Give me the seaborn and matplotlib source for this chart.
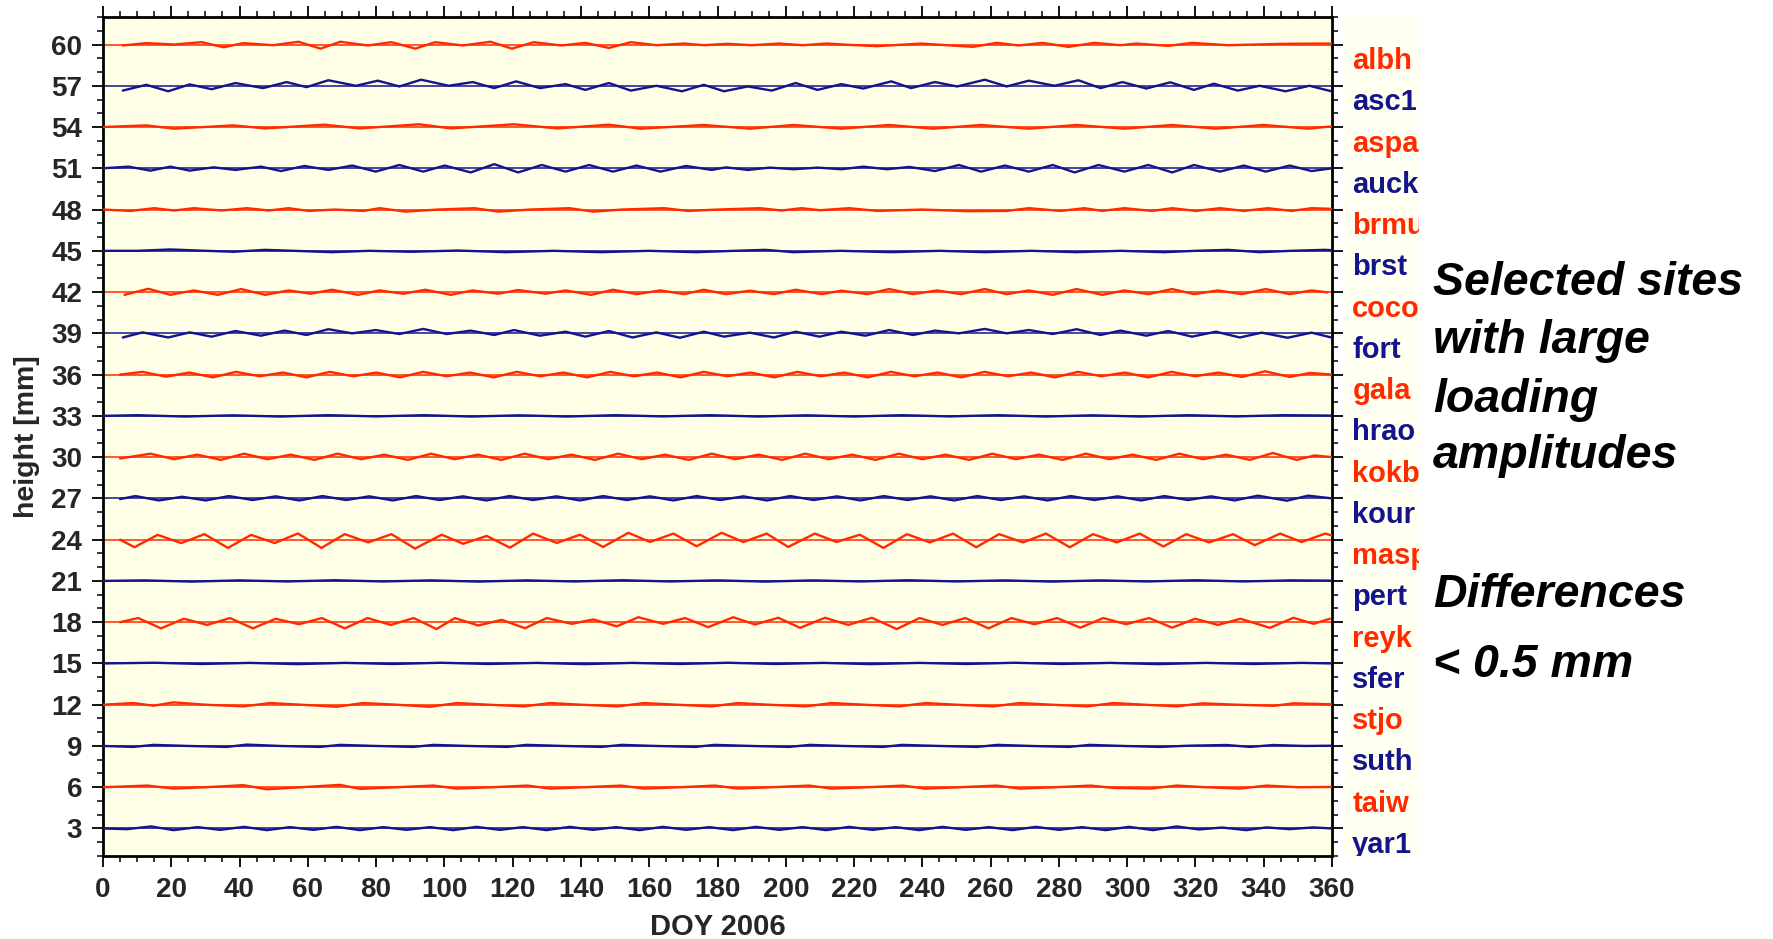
import numpy as np
import pandas as pd
import matplotlib
matplotlib.use("Agg")
import matplotlib.pyplot as plt
import seaborn as sns
from matplotlib.ticker import MultipleLocator

sns.set_theme(style="white")
plt.rcParams['font.family'] = ['Liberation Sans', 'DejaVu Sans']
plt.rcParams['font.weight'] = 'bold'

sites = ["albh", "asc1", "aspa", "auck", "brmu", "brst", "coco", "fort", "gala", "hrao",
         "kokb", "kour", "masp", "pert", "reyk", "sfer", "stjo", "suth", "taiw", "yar1"]
offsets = [60, 57, 54, 51, 48, 45, 42, 39, 36, 33, 30, 27, 24, 21, 18, 15, 12, 9, 6, 3]
RED = "#ff2a00"
BLUE = "#14148c"
colors = [RED if i % 2 == 0 else BLUE for i in range(len(sites))]

xticks = list(range(0, 361, 20))
yticks = list(range(3, 61, 3))

albh_doy = [5.8, 12.7, 20.8, 28.9, 35.3, 41.1, 49.8, 57.3, 63.7, 69.5, 77.6, 84.5, 91.5, 97.3, 105.4,
            113.5, 119.8, 126.2, 134.3, 141.3, 148.2, 154.6, 162.1, 170.2, 176.0, 183, 190, 198, 205,
            212, 219, 226.8, 239.6, 254.8, 261.8, 268.2, 275.2, 282.8, 290.4, 298.0, 302.7, 312.0,
            319.0, 329.5, 345.8, 357.5, 360]
albh_dh = [-0.07, 0.1, 0.0, 0.17, -0.2, 0.1, -0.05, 0.2, -0.3, 0.2, -0.07, 0.17, -0.3, 0.17, -0.07,
           0.2, -0.3, 0.17, -0.07, 0.12, -0.25, 0.17, -0.05, 0.07, -0.05, 0.05, -0.05, 0.07, -0.05,
           0.07, -0.03, -0.12, 0.07, -0.17, 0.12, -0.07, 0.12, -0.17, 0.12, -0.05, 0.07, -0.1,
           0.12, -0.05, 0.05, 0.07, 0.05]

asc1_doy = [5.8, 12.7, 19.1, 25.4, 31.8, 38.8, 46.9, 53.8, 59.6, 66.0, 74.1, 80.5, 86.8, 93.2, 101.3,
            108.3, 114.6, 121.0, 128.0, 135.5, 141.3, 148.2, 154.6, 162.1, 169.6, 176.0, 181.9, 188.9,
            195.9, 202.9, 209.3, 216.3, 222.7, 230.9, 236.7, 243.7, 250.2, 258.3, 264.7, 271.2, 278.7,
            285.7, 292.2, 298.6, 305.6, 312.6, 319.6, 325.4, 332.4, 338.8, 346.4, 353.4, 359.8]
asc1_dh = [-0.35, 0.07, -0.4, 0.1, -0.25, 0.2, -0.17, 0.27, -0.1, 0.4, 0.0, 0.37, -0.05, 0.44, 0.0,
           0.27, -0.17, 0.32, -0.17, 0.12, -0.3, 0.2, -0.35, 0.0, -0.4, 0.07, -0.4, -0.05,
           -0.35, 0.2, -0.3, 0.12, -0.2, 0.32, -0.17, 0.27, -0.05, 0.44, -0.05, 0.37, 0.0,
           0.4, -0.17, 0.27, -0.2, 0.25, -0.3, 0.15, -0.35, 0.0, -0.4, 0.0, -0.4]

aspa_doy = [0, 12.7, 20.8, 38.2, 47.5, 64.8, 75.2, 92.6, 101.9, 120.4, 133.1, 148.2, 157.5, 176.0,
            189.5, 202.3, 216.3, 230.3, 243.2, 257.2, 271.2, 285.2, 299.2, 313.2, 326.0, 340.0, 352.9, 360]
aspa_dh = [0.0, 0.12, -0.12, 0.12, -0.1, 0.17, -0.1, 0.2, -0.1, 0.2, -0.1, 0.17, -0.12, 0.15,
           -0.12, 0.15, -0.12, 0.15, -0.12, 0.15, -0.12, 0.15, -0.12, 0.15, -0.12, 0.15, -0.12, 0.05]

auck_doy = [0, 7.5, 13.9, 19.7, 25.4, 32.4, 38.8, 46.3, 52.1, 59.0, 66.0, 73.0, 79.9, 86.8, 93.8, 100.1,
            107.7, 114.6, 121.6, 128.5, 135.5, 142.4, 149.4, 156.3, 163.3, 170.8, 178.3, 182.5, 188.9,
            195.3, 202.3, 209.3, 216.3, 222.7, 229.7, 236.2, 243.7, 250.7, 257.2, 264.2, 271.2, 278.2,
            284.6, 291.6, 299.2, 306.2, 313.2, 319.6, 327.2, 334.2, 340.6, 347.6, 354.0, 360]
auck_dh = [0.0, 0.12, -0.17, 0.12, -0.17, 0.07, -0.12, 0.12, -0.2, 0.17, -0.12, 0.2, -0.24, 0.24, -0.24, 0.2,
           -0.3, 0.3, -0.3, 0.24, -0.24, 0.24, -0.24, 0.2, -0.24, 0.17, -0.12, 0.07, -0.12,
           0.05, -0.07, 0.05, -0.07, 0.12, -0.07, 0.1, -0.2, 0.24, -0.24, 0.2, -0.24, 0.24,
           -0.3, 0.24, -0.24, 0.24, -0.3, 0.24, -0.24, 0.2, -0.24, 0.2, -0.2, 0.0]

brmu_doy = [0, 8.1, 15.0, 20.8, 26.6, 34.7, 42.2, 48.6, 54.4, 60.2, 68, 76.4, 81.0, 88.6, 98, 108.8, 115.8,
            125, 136.6, 143.6, 152, 164.4, 171.4, 180, 192.4, 198.8, 204.6, 210, 218.6, 226.8, 240, 253.7,
            264.7, 271.2, 280.5, 287.5, 292.7, 299.2, 307.3, 313.2, 320.2, 327.2, 334.2, 341.2, 348.2, 354.0, 360]
brmu_dh = [0.0, -0.1, 0.1, -0.07, 0.1, -0.07, 0.1, -0.07, 0.1, -0.1, 0.0, -0.1, 0.1, -0.15, 0.0, 0.1, -0.15,
           0.0, 0.1, -0.15, 0.0, 0.1, -0.1, 0.0, 0.1, -0.07, 0.1, -0.05, 0.1, -0.1, 0.0, -0.12,
           -0.1, 0.1, -0.1, 0.1, -0.1, 0.1, -0.1, 0.1, -0.1, 0.1, -0.1, 0.1, -0.1, 0.1, 0.05]

brst_doy = [0, 10, 19.7, 28, 38.2, 47.5, 56, 67.1, 78, 90.3, 104, 118.1, 132, 145.9, 160, 173.7, 185, 194.1,
            202.3, 216, 230.9, 245, 258.3, 272, 285.2, 298, 310.8, 320, 329.5, 338.8, 348, 357.5, 360]
brst_dh = [0.0, 0.0, 0.1, 0.02, -0.07, 0.07, 0.0, -0.1, 0.0, -0.07, 0.02, -0.1, 0.0, -0.1, 0.0, -0.1, 0.0, 0.07,
           -0.1, 0.0, -0.1, 0.0, -0.1, 0.0, -0.1, 0.0, -0.1, 0.0, 0.07, -0.1, 0.0, 0.07, 0.05]

coco_doy = [6.3, 13.3, 19.7, 26.6, 33.6, 40.5, 47.5, 54.4, 60.8, 67.1, 74.7, 81.0, 88.0, 94.4, 101.9,
            108.2, 115.8, 121.6, 129.7, 135.5, 143.0, 149.4, 156.3, 163.3, 170.2, 176.0, 182.5, 189.5,
            196.5, 202.9, 210.5, 216.3, 223.9, 230.3, 237.3, 244.3, 251.3, 258.3, 264.7, 271.2, 278.2,
            285.2, 292.7, 299.2, 306.2, 313.2, 319.6, 326.6, 333.6, 340.6, 347.6, 354.0, 358.7]
coco_dh = [-0.2, 0.24, -0.2, 0.12, -0.2, 0.22, -0.2, 0.12, -0.12, 0.17, -0.2, 0.12, -0.12, 0.17, -0.2,
           0.12, -0.12, 0.15, -0.12, 0.12, -0.2, 0.17, -0.15, 0.12, -0.15, 0.17, -0.15, 0.1,
           -0.15, 0.17, -0.15, 0.1, -0.15, 0.22, -0.15, 0.12, -0.15, 0.22, -0.15, 0.12, -0.2,
           0.22, -0.2, 0.12, -0.15, 0.22, -0.15, 0.12, -0.15, 0.22, -0.15, 0.12, -0.02]

fort_doy = [5.8, 11.6, 19.1, 25.4, 31.8, 38.8, 46.3, 53.2, 59.6, 66.0, 73.0, 79.9, 86.8, 93.8, 100.7,
            107.7, 114.6, 120.4, 128.0, 135.5, 141.3, 148.2, 155.1, 162.1, 169.0, 176.0, 181.9, 189.5,
            196.5, 202.9, 209.9, 216.3, 223.3, 230.3, 237.3, 243.7, 250.7, 258.3, 264.7, 271.2, 278.2,
            285.2, 292.2, 298.0, 305.6, 312.0, 319.0, 326.0, 333.0, 339.4, 347.0, 354.0, 359.8]
fort_dh = [-0.3, 0.07, -0.3, 0.07, -0.24, 0.17, -0.17, 0.2, -0.12, 0.3, 0.0, 0.24, -0.05, 0.32, -0.05,
           0.2, -0.12, 0.24, -0.17, 0.12, -0.24, 0.17, -0.3, 0.07, -0.32, 0.12, -0.24, 0.05,
           -0.3, 0.12, -0.24, 0.12, -0.17, 0.24, -0.12, 0.2, 0.0, 0.32, 0.0, 0.24, -0.05,
           0.3, -0.12, 0.2, -0.17, 0.17, -0.24, 0.12, -0.3, 0.05, -0.32, 0.05, -0.3]

gala_doy = [5, 11.6, 18.5, 25.3, 32.2, 39.0, 45.9, 52.7, 59.6, 66.4,
            73.3, 80.1, 87.0, 93.8, 100.7, 107.5, 114.4, 121.2, 128.1, 134.9,
            141.8, 148.6, 155.5, 162.3, 169.2, 176.0, 182.9, 189.7, 196.6, 203.4,
            210.3, 217.1, 224.0, 230.8, 237.7, 244.5, 251.4, 258.2, 265.1, 271.9,
            278.8, 285.6, 292.5, 299.3, 306.2, 313.0, 319.9, 326.7, 333.6, 340.4,
            347.7, 353.5, 360]
gala_dh = [0.0,
           0.2, -0.15, 0.15, -0.2, 0.2, -0.12, 0.15, -0.2, 0.2, -0.12,
           0.15, -0.2, 0.2, -0.12, 0.15, -0.2, 0.2, -0.12, 0.15, -0.2,
           0.2, -0.12, 0.15, -0.2, 0.2, -0.12, 0.15, -0.2, 0.2, -0.12,
           0.15, -0.2, 0.2, -0.12, 0.15, -0.2, 0.2, -0.12, 0.15, -0.2,
           0.2, -0.12, 0.15, -0.2, 0.2, -0.12, 0.15, -0.17, 0.24, -0.17,
           0.12, 0.0]

hrao_doy = [0, 10, 24, 38, 52, 66, 80, 94, 108, 122, 136, 150, 164, 178, 192, 206, 220, 234, 248,
            262, 276, 290, 304, 318, 332, 346, 360]
hrao_dh = [0.0, 0.05, -0.05, 0.04, -0.05, 0.05, -0.04, 0.05, -0.05, 0.04, -0.05, 0.05, -0.04, 0.05,
           -0.05, 0.04, -0.05, 0.05, -0.04, 0.05, -0.05, 0.04, -0.05, 0.05, -0.04, 0.05, 0.02]

kokb_doy = [5, 13.9, 20.8, 27.6, 34.5, 41.3, 48.2, 55.0, 61.9, 68.7,
            75.6, 82.4, 89.3, 96.1, 103.0, 109.8, 116.7, 123.5, 130.4, 137.2,
            144.1, 150.9, 157.8, 164.6, 171.5, 178.3, 185.2, 192.0, 198.9, 205.7,
            212.6, 219.4, 226.3, 233.1, 240.0, 246.8, 253.7, 260.5, 267.4, 274.2,
            281.1, 287.9, 294.8, 301.6, 308.5, 315.3, 322.2, 329.0, 335.9, 342.7,
            349.6, 354.9, 360]
kokb_dh = [-0.1,
           0.25, -0.15, 0.18, -0.2, 0.25, -0.15, 0.18, -0.2, 0.25, -0.15,
           0.18, -0.2, 0.25, -0.15, 0.18, -0.2, 0.25, -0.15, 0.18, -0.2,
           0.25, -0.15, 0.18, -0.2, 0.25, -0.15, 0.18, -0.2, 0.25, -0.15,
           0.18, -0.2, 0.25, -0.15, 0.18, -0.2, 0.25, -0.15, 0.18, -0.2,
           0.25, -0.15, 0.18, -0.2, 0.25, -0.15, 0.18, -0.2, 0.3, -0.2,
           0.12, 0.0]

kour_doy = [5, 9.5, 16.4, 23.2, 30.1, 36.9, 43.8, 50.6, 57.5, 64.3,
            71.2, 78.0, 84.9, 91.7, 98.6, 105.4, 112.3, 119.1, 126.0, 132.8,
            139.7, 146.5, 153.4, 160.2, 167.1, 173.9, 180.8, 187.6, 194.5, 201.3,
            208.2, 215.0, 221.9, 228.7, 235.6, 242.4, 249.3, 256.1, 263.0, 269.8,
            276.7, 283.5, 290.4, 297.2, 304.1, 310.9, 317.8, 324.6, 331.5, 338.3,
            346.8, 353.0, 360]
kour_dh = [-0.05,
           0.17, -0.15, 0.12, -0.15, 0.17, -0.12, 0.15, -0.15, 0.17, -0.12,
           0.15, -0.15, 0.17, -0.12, 0.15, -0.15, 0.17, -0.12, 0.15, -0.15,
           0.17, -0.12, 0.15, -0.15, 0.17, -0.12, 0.15, -0.15, 0.17, -0.12,
           0.15, -0.15, 0.17, -0.12, 0.15, -0.15, 0.17, -0.12, 0.15, -0.15,
           0.17, -0.12, 0.15, -0.15, 0.17, -0.12, 0.15, -0.15, 0.2, -0.17,
           0.2, 0.0]

masp_doy = [5, 9.2, 16.0, 22.9, 29.7, 36.6, 43.4, 50.3, 57.1, 64.0,
            70.8, 77.7, 84.5, 91.4, 99.2, 105.5, 112.4, 119.2, 126.0, 132.9,
            139.7, 146.5, 153.9, 160.2, 167.1, 173.9, 181.2, 187.6, 194.4, 200.7,
            208.5, 214.9, 221.7, 228.6, 235.5, 242.2, 249.0, 255.8, 262.5, 269.5,
            276.2, 283.2, 290.0, 296.9, 303.7, 310.6, 317.3, 324.0, 331.0, 337.4,
            344.8, 351.1, 358.0, 360]
masp_dh = [0.0, -0.55, 0.35, -0.25, 0.4, -0.6, 0.35, -0.25, 0.45, -0.6,
           0.4, -0.2, 0.4, -0.65, 0.36, -0.3, 0.27, -0.58, 0.44, -0.24,
           0.36, -0.53, 0.5, -0.17, 0.44, -0.48, 0.5, -0.17, 0.44, -0.53,
           0.44, -0.17, 0.36, -0.6, 0.4, -0.2, 0.44, -0.55, 0.4, -0.2,
           0.44, -0.55, 0.4, -0.2, 0.44, -0.5, 0.4, -0.2, 0.4, -0.4,
           0.44, -0.17, 0.44, 0.3]

pert_doy = [0, 12, 26, 40, 54, 68, 82, 96, 110, 124, 138, 152, 166, 180, 194, 208, 222, 236, 250,
            264, 278, 292, 306, 320, 334, 348, 360]
pert_dh = [0.0, 0.04, -0.05, 0.04, -0.04, 0.05, -0.04, 0.04, -0.05, 0.04, -0.04, 0.05, -0.04, 0.04,
           -0.05, 0.04, -0.04, 0.05, -0.04, 0.04, -0.05, 0.04, -0.04, 0.05, -0.04, 0.04, 0.02]

reyk_doy = [5, 10.3, 17.0, 23.7, 30.5, 37.2, 43.9, 50.6, 57.4, 64.1,
            70.8, 77.5, 84.3, 91.0, 97.7, 103.1, 109.9, 116.8, 123.6, 130.0,
            137.3, 143.6, 150.5, 156.8, 164.1, 170.5, 177.3, 184.6, 191.0, 197.8,
            204.2, 211.5, 218.3, 225.2, 232.5, 239.2, 245.9, 252.6, 259.4, 266.1,
            272.8, 279.5, 286.3, 293.0, 299.7, 306.4, 313.2, 319.9, 326.6, 333.2,
            341.8, 348.7, 354.6, 359.4]
reyk_dh = [0.0, 0.3, -0.45, 0.25, -0.2, 0.3, -0.45, 0.25, -0.15, 0.3,
           -0.45, 0.3, -0.2, 0.3, -0.5, 0.3, -0.24, 0.17, -0.44, 0.3,
           -0.12, 0.2, -0.3, 0.36, -0.12, 0.3, -0.36, 0.36, -0.17, 0.32,
           -0.41, 0.32, -0.2, 0.32, -0.5, 0.3, -0.2, 0.3, -0.45, 0.3,
           -0.15, 0.3, -0.4, 0.3, -0.15, 0.3, -0.4, 0.25, -0.2, 0.25,
           -0.41, 0.32, -0.12, 0.25]

sfer_doy = [0, 15, 29, 43, 57, 71, 85, 99, 113, 127, 141, 155, 169, 183, 197, 211, 225, 239, 253,
            267, 281, 295, 309, 323, 337, 351, 360]
sfer_dh = [0.0, 0.05, -0.04, 0.04, -0.05, 0.04, -0.04, 0.05, -0.04, 0.04, -0.05, 0.04, -0.04, 0.05,
           -0.04, 0.04, -0.05, 0.04, -0.04, 0.05, -0.04, 0.04, -0.05, 0.04, -0.04, 0.04, 0.0]

stjo_doy = [0, 8.9, 14.8, 20.7, 30, 41.1, 49.0, 58, 68.4, 76.2,
            86, 95.8, 103.7, 113, 123.3, 131.0, 140, 150.8, 158.5, 168,
            178.3, 186.0, 195, 205.8, 213.5, 223, 233.3, 241.0, 250, 260.8,
            268.5, 278, 288.3, 296.0, 305, 314.5, 322.0, 332, 343.0, 348.7,
            360]
stjo_dh = [0.0, 0.12, -0.07, 0.17, 0.0, -0.12, 0.12, 0.0, -0.15, 0.12,
           0.0, -0.15, 0.12, 0.0, -0.12, 0.12, 0.0, -0.12, 0.12, 0.0,
           -0.12, 0.12, 0.0, -0.12, 0.12, 0.0, -0.12, 0.12, 0.0, -0.12,
           0.12, 0.0, -0.12, 0.12, 0.0, -0.12, 0.1, 0.0, -0.08, 0.1,
           0.03]

suth_doy = [0, 8.9, 14.8, 25, 36.3, 42.1, 52, 63.6, 69.4, 80,
            91.0, 96.8, 107, 118.5, 124, 135, 146, 152, 162, 173.5,
            179, 190, 201, 207, 217, 228.5, 234, 245, 256, 262,
            272, 283, 289, 299, 309.6, 318, 329.1, 336.0, 342.7, 352,
            360]
suth_dh = [0.0, -0.07, 0.08, 0.0, -0.07, 0.1, 0.0, -0.07, 0.08, 0.0,
           -0.07, 0.08, 0.0, -0.07, 0.08, 0.0, -0.07, 0.08, 0.0, -0.07,
           0.08, 0.0, -0.07, 0.08, 0.0, -0.07, 0.08, 0.0, -0.07, 0.08,
           0.0, -0.07, 0.08, 0.0, -0.07, 0.02, 0.07, -0.07, 0.07, 0.0,
           0.02]

taiw_doy = [0, 13.0, 20.7, 30, 41.1, 48.0, 58, 69.4, 75.3, 86,
            96.8, 103.7, 114, 124.3, 131, 141, 151.8, 158.5, 169, 179.3,
            186, 196, 206.8, 213.5, 224, 234.3, 241, 251, 261.8, 268.5,
            279, 289.3, 296, 306.7, 314.5, 323, 333.0, 340.8, 350, 360]
taiw_dh = [0.0, 0.12, -0.1, 0.0, 0.15, -0.15, 0.0, 0.17, -0.12, 0.0,
           0.12, -0.1, 0.0, 0.12, -0.1, 0.0, 0.12, -0.1, 0.0, 0.12,
           -0.1, 0.0, 0.12, -0.1, 0.0, 0.12, -0.1, 0.0, 0.12, -0.1,
           0.0, 0.12, -0.05, -0.1, 0.12, 0.0, -0.1, 0.12, 0.0, 0.02]

yar1_doy = [0, 7.0, 14.1, 20.7, 27.7, 34.3, 41.3, 48.0, 54.8, 61.6,
            68.4, 75.3, 82.1, 88.9, 95.8, 102.6, 109.4, 116.2, 123.0, 129.9,
            136.7, 143.5, 150.3, 157.2, 164.0, 170.8, 177.6, 184.5, 191.3, 198.1,
            204.9, 211.8, 218.6, 225.4, 232.2, 239.1, 245.9, 252.7, 259.5, 266.4,
            273.2, 280.0, 286.8, 293.7, 300.5, 307.6, 314.5, 321.0, 327.8, 334.9,
            340.8, 347.6, 354.5, 360]
yar1_dh = [0.0, -0.05, 0.15, -0.12, 0.1, -0.1, 0.12, -0.12, 0.1, -0.1,
           0.12, -0.12, 0.1, -0.1, 0.1, -0.12, 0.12, -0.1, 0.1, -0.12,
           0.12, -0.1, 0.1, -0.12, 0.12, -0.1, 0.1, -0.12, 0.12, -0.1,
           0.1, -0.12, 0.12, -0.1, 0.1, -0.12, 0.12, -0.1, 0.1, -0.12,
           0.12, -0.1, 0.1, -0.12, 0.12, -0.12, 0.15, -0.07, 0.07, -0.12,
           0.08, -0.05, 0.08, 0.0]

series = {
    "albh": (albh_doy, albh_dh), "asc1": (asc1_doy, asc1_dh), "aspa": (aspa_doy, aspa_dh),
    "auck": (auck_doy, auck_dh), "brmu": (brmu_doy, brmu_dh), "brst": (brst_doy, brst_dh),
    "coco": (coco_doy, coco_dh), "fort": (fort_doy, fort_dh), "gala": (gala_doy, gala_dh),
    "hrao": (hrao_doy, hrao_dh), "kokb": (kokb_doy, kokb_dh), "kour": (kour_doy, kour_dh),
    "masp": (masp_doy, masp_dh), "pert": (pert_doy, pert_dh), "reyk": (reyk_doy, reyk_dh),
    "sfer": (sfer_doy, sfer_dh), "stjo": (stjo_doy, stjo_dh), "suth": (suth_doy, suth_dh),
    "taiw": (taiw_doy, taiw_dh), "yar1": (yar1_doy, yar1_dh),
}

rows = []
for s, off in zip(sites, offsets):
    d, v = series[s]
    if len(d) != len(v):
        print("length mismatch", s, len(d), len(v))
    for x, y in zip(d, v):
        rows.append((s, x, off + y))
df = pd.DataFrame(rows, columns=["site", "doy", "h"])
pal = dict(zip(sites, colors))

W, H = 1773, 939
fig = plt.figure(figsize=(W / 100, H / 100), dpi=100)
ax_l, ax_r, ax_t, ax_b = 103, 1332, 17, 856
ax = fig.add_axes([ax_l / W, 1 - ax_b / H, (ax_r - ax_l) / W, (ax_b - ax_t) / H])
ax.set_facecolor("#fffee6")

for off, c in zip(offsets, colors):
    ax.axhline(off, color=c, lw=1.1, zorder=2)
sns.lineplot(data=df, x="doy", y="h", hue="site", palette=pal, estimator=None,
             legend=False, lw=1.7, ax=ax, zorder=3)
for ln in ax.get_lines():
    ln.set_solid_joinstyle("round")

ax.set_xlim(0, 360)
ax.set_ylim(1, 62)
ax.set_xticks(xticks)
ax.set_yticks(yticks)
ax.xaxis.set_minor_locator(MultipleLocator(5))
ax.yaxis.set_minor_locator(MultipleLocator(1))
ax.tick_params(axis="both", which="major", direction="out", length=8, width=1.3, color="black",
               labelsize=20, top=True, right=True, bottom=True, left=True, pad=7)
ax.tick_params(axis="both", which="minor", direction="out", length=4, width=1.1, color="black",
               top=True, right=True, bottom=True, left=True)
for lab in ax.get_xticklabels() + ax.get_yticklabels():
    lab.set_fontweight("bold")
for sp in ax.spines.values():
    sp.set_color("black")
    sp.set_linewidth(2)
ax.set_xlabel("DOY 2006", fontsize=21, fontweight="bold", labelpad=7)
ax.set_ylabel("height [mm]", fontsize=20.5, fontweight="bold", labelpad=8)

# label panel
pan_l, pan_r = 1344, 1419
pan = fig.add_axes([pan_l / W, 1 - ax_b / H, (pan_r - pan_l) / W, (ax_b - ax_t) / H])
pan.set_facecolor("#fffff2")
pan.set_ylim(1, 62)
pan.set_xlim(0, 1)
pan.set_xticks([])
pan.set_yticks([])
for sp in pan.spines.values():
    sp.set_visible(False)
pan.set_zorder(-1)
for s, off, c in zip(sites, offsets, colors):
    pan.text(0.11, off - 1.2, s, color=c, fontsize=21, fontweight="bold", va="center",
             ha="left", clip_on=True)

lines = [("Selected sites", 295), ("with large", 353), ("loading", 412), ("amplitudes", 468),
         ("Differences", 607), ("< 0.5 mm", 677)]
for t, yb in lines:
    fig.text(1433 / W, 1 - yb / H, t, fontsize=33.5, fontweight="bold", style="italic",
             ha="left", va="baseline", color="black")

fig.savefig("out.png", dpi=100)
